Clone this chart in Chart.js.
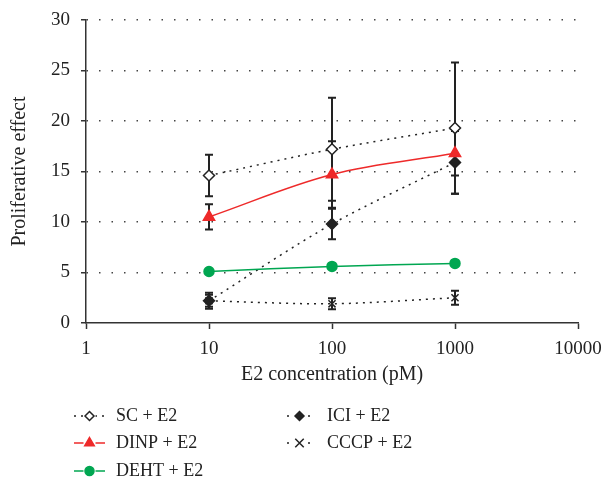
<!DOCTYPE html>
<html>
<head>
<meta charset="utf-8">
<script src="https://cdn.jsdelivr.net/npm/chart.js@4"></script>
<style>
  html, body { margin: 0; padding: 0; background: #fff; overflow: hidden; }
  #wrap { width: 606px; height: 478px; }
</style>
</head>
<body>
<div id="wrap"><canvas id="c" width="606" height="478"></canvas></div>
<script>
// concentrations (pM)
const conc = [10, 100, 1000];
const xTicks = [1, 10, 100, 1000, 10000];

// series values and error bar half-widths
const sc = [14.6, 17.2, 19.3];
const scErr = [2.05, 5.1, 6.5];
const dinp = [10.5, 14.7, 16.8];
const dinpErr = [1.25, 3.3, 2.2];
const deht = [5.1, 5.6, 5.9];
const dehtErr = [0, 0, 0];
const ici = [2.2, 9.8, 15.9];
const iciErr = [0.8, 1.5, 3.1];
const cccp = [2.2, 1.9, 2.5];
const cccpErr = [0.6, 0.55, 0.7];

const RED = "#ee2a2a";
const GREEN = "#00a651";
const DARK = "#222";
const FONT = "'Liberation Serif', 'DejaVu Serif', serif";

const pts = vals => vals.map((v, i) => ({ x: conc[i], y: v }));

const series = [
  { label: "SC + E2", data: sc, err: scErr, color: DARK, dash: [2, 5], style: "rectRot", fill: "#fff", r: 5.5, tension: 0.3 },
  { label: "DINP + E2", data: dinp, err: dinpErr, color: RED, dash: [], style: "triangle", fill: RED, r: 6.5, tension: 0.35 },
  { label: "DEHT + E2", data: deht, err: dehtErr, color: GREEN, dash: [], style: "circle", fill: GREEN, r: 5, tension: 0.3 },
  { label: "ICI + E2", data: ici, err: iciErr, color: DARK, dash: [2, 5], style: "rectRot", fill: DARK, r: 5.5, tension: 0.3 },
  { label: "CCCP + E2", data: cccp, err: cccpErr, color: DARK, dash: [2, 5], style: "crossRot", fill: DARK, r: 5, tension: 0.3 }
];

// error bars drawn under the markers
const errorBars = {
  id: "errorBars",
  beforeDatasetsDraw(chart) {
    const { ctx, scales: { x, y } } = chart;
    ctx.save();
    ctx.strokeStyle = DARK;
    ctx.lineWidth = 2;
    series.forEach(s => {
      s.data.forEach((v, i) => {
        if (!s.err[i]) return;
        const px = x.getPixelForValue(conc[i]);
        const top = y.getPixelForValue(v + s.err[i]);
        const bot = y.getPixelForValue(v - s.err[i]);
        ctx.beginPath();
        ctx.moveTo(px, top); ctx.lineTo(px, bot);
        ctx.moveTo(px - 4, top); ctx.lineTo(px + 4, top);
        ctx.moveTo(px - 4, bot); ctx.lineTo(px + 4, bot);
        ctx.stroke();
      });
    });
    ctx.restore();
  }
};

// legend in two columns below the axis
const legendBox = {
  id: "legendBox",
  afterDraw(chart) {
    const ctx = chart.ctx;
    const cols = [
      { x0: 74, x1: 105, tx: 116 },
      { x0: 287, x1: 312, tx: 327 }
    ];
    const rows = [416, 443, 471];
    const place = [[0, 0], [0, 1], [0, 2], [1, 0], [1, 1]];
    ctx.save();
    ctx.font = "18px " + FONT;
    ctx.textBaseline = "middle";
    series.forEach((s, i) => {
      const c = cols[place[i][0]];
      const yy = rows[place[i][1]];
      ctx.strokeStyle = s.color;
      ctx.lineWidth = 1.5;
      ctx.setLineDash(s.dash);
      ctx.beginPath();
      ctx.moveTo(c.x0, yy); ctx.lineTo(c.x1, yy);
      ctx.stroke();
      ctx.setLineDash([]);
      ctx.fillStyle = "#fff";
      ctx.fillRect((c.x0 + c.x1) / 2 - 6, yy - 6, 12, 12);
      ctx.fillStyle = s.fill;
      ctx.strokeStyle = s.color;
      ctx.lineWidth = 1.5;
      const rad = s.style === "triangle" ? 5.5 : (s.style === "crossRot" ? 6 : 4.5);
      Chart.helpers.drawPoint(ctx, { pointStyle: s.style, radius: rad, borderWidth: 1.5 }, (c.x0 + c.x1) / 2, yy);
      ctx.fillStyle = "#222";
      ctx.fillText(s.label, c.tx, yy);
    });
    ctx.restore();
  }
};

new Chart(document.getElementById("c"), {
  type: "line",
  data: {
    datasets: series.map(s => ({
      label: s.label,
      data: pts(s.data),
      borderColor: s.color,
      borderWidth: 1.5,
      borderDash: s.dash,
      tension: s.tension,
      pointStyle: s.style,
      pointRadius: s.r,
      pointBackgroundColor: s.fill,
      pointBorderColor: s.color,
      pointBorderWidth: 1.5,
      fill: false
    }))
  },
  options: {
    responsive: false,
    animation: false,
    layout: { padding: { top: 20, right: 28, bottom: 87, left: 0 } },
    plugins: { legend: { display: false }, tooltip: { enabled: false } },
    scales: {
      x: {
        type: "logarithmic",
        min: 1, max: 10000,
        afterBuildTicks: ax => { ax.ticks = xTicks.map(v => ({ value: v })); },
        afterFit: ax => { ax.height = 68; ax.paddingRight = 0; ax.paddingLeft = 0; },
        ticks: {
          color: "#222", font: { family: FONT, size: 19 }, padding: 9,
          autoSkip: false, maxRotation: 0,
          callback: v => String(v)
        },
        grid: { drawOnChartArea: false, drawTicks: true, tickLength: 6, color: "#333", tickWidth: 1.5 },
        border: { color: "#333", width: 1.5 },
        title: { display: true, text: "E2 concentration (pM)", color: "#222", font: { family: FONT, size: 20 }, padding: { top: 3 } }
      },
      y: {
        min: 0, max: 30,
        afterFit: ax => { ax.width = 86; ax.paddingTop = 0; ax.paddingBottom = 0; },
        ticks: { stepSize: 5, color: "#222", font: { family: FONT, size: 19 }, padding: 11 },
        grid: {
          color: ctx => ctx.tick && ctx.tick.value === 0 ? "rgba(0,0,0,0)" : "#444",
          lineWidth: 1.5,
          tickLength: 5,
          tickColor: "#333",
          tickBorderDash: [],
          tickWidth: 1.5
        },
        border: { color: "#333", width: 1.5, dash: [1.5, 11] },
        title: { display: true, text: "Proliferative effect", color: "#222", font: { family: FONT, size: 20 }, padding: { top: 8, bottom: 0 } }
      }
    }
  },
  plugins: [errorBars, legendBox]
});
</script>
</body>
</html>
